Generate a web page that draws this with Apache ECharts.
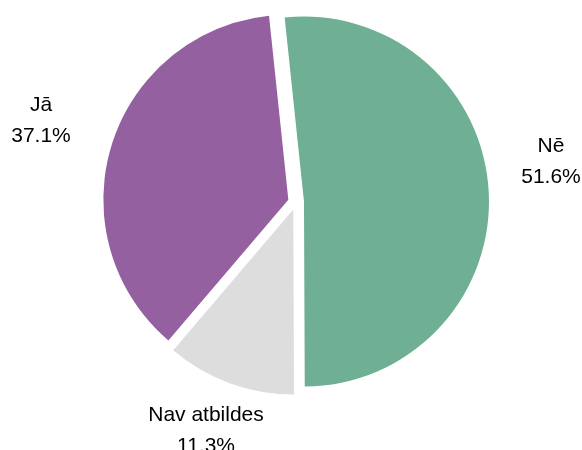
<!DOCTYPE html>
<html>
<head>
<meta charset="utf-8">
<script src="https://cdn.jsdelivr.net/npm/echarts@6/dist/echarts.min.js"></script>
<style>
html,body{margin:0;padding:0;background:#fff;}
#chart{width:582px;height:450px;}
</style>
</head>
<body>
<div id="chart"></div>
<script>
const categories = ['Nē', 'Nav atbildes', 'Jā'];
const values = [51.6, 11.3, 37.1];
const colors = ['#6faf93', '#dddddd', '#9460a0'];
// label anchor points (layout only)
const labelPos = [[551, 162], [206, 431], [41, 121]];

const common = {
  type: 'pie',
  center: [296, 202],
  radius: [0, 185],
  startAngle: 96,
  clockwise: true,
  avoidLabelOverlap: false,
  emphasis: { disabled: true },
  labelLine: { show: false }
};

const chart = echarts.init(document.getElementById('chart'));
chart.setOption({
  animation: false,
  series: [
    Object.assign({}, common, {
      selectedMode: 'multiple',
      selectedOffset: 8,
      itemStyle: { borderWidth: 0 },
      label: { show: false },
      data: categories.map((c, i) => ({
        name: c,
        value: values[i],
        selected: true,
        itemStyle: { color: colors[i] },
        select: { itemStyle: { color: colors[i] } }
      }))
    }),
    Object.assign({}, common, {
      silent: true,
      selectedMode: false,
      itemStyle: { color: 'rgba(0,0,0,0)', borderWidth: 0 },
      label: {
        show: true,
        position: 'outside',
        formatter: '{b}\n{c}%',
        fontFamily: 'Liberation Sans, Arial, sans-serif',
        fontSize: 21,
        lineHeight: 31,
        color: '#000',
        align: 'center'
      },
      labelLayout: function (p) {
        const pos = labelPos[p.dataIndex];
        return { x: pos[0], y: pos[1], align: 'center', verticalAlign: 'middle' };
      },
      data: categories.map((c, i) => ({ name: c, value: values[i] }))
    })
  ]
});
</script>
</body>
</html>
